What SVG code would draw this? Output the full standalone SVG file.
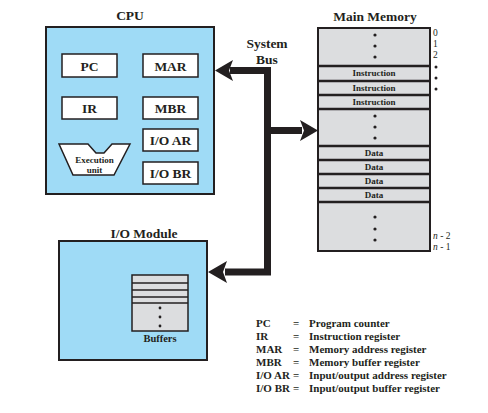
<svg xmlns="http://www.w3.org/2000/svg" width="488" height="413" viewBox="0 0 488 413">
<style>
text{font-family:"Liberation Serif","Times New Roman",serif;font-weight:bold;fill:#231f20}
.t{font-size:13.5px;text-anchor:middle}
.r{font-size:13.5px;text-anchor:middle}
.s{font-size:9px;text-anchor:middle}
.l{font-size:11px}
.i{font-size:9.5px;font-weight:normal}
.blue{fill:#9fdbf6;stroke:#231f20;stroke-width:2}
.reg{fill:#fff;stroke:#231f20;stroke-width:1.5}
.mem{fill:#dcdddf;stroke:#231f20;stroke-width:2}
.div{stroke:#231f20;stroke-width:2.5}
.thin{stroke:#231f20;stroke-width:1.5}
.dot{fill:#231f20}
</style>
<rect width="488" height="413" fill="#fff"/>

<g id="cpu">
<text class="t" x="130" y="20">CPU</text>
<rect class="blue" x="46" y="27" width="168" height="167"/>
<g id="pc"><rect class="reg" x="62" y="54" width="55" height="23"/><text class="r" x="89.5" y="70.5">PC</text></g>
<g id="mar"><rect class="reg" x="143" y="54" width="55" height="23"/><text class="r" x="170.5" y="70.5">MAR</text></g>
<g id="ir"><rect class="reg" x="62" y="97" width="55" height="22"/><text class="r" x="89.5" y="113">IR</text></g>
<g id="mbr"><rect class="reg" x="143" y="97" width="55" height="22"/><text class="r" x="170.5" y="113">MBR</text></g>
<g id="ioar"><rect class="reg" x="143" y="129" width="55" height="22"/><text class="r" x="170.5" y="145">I/O AR</text></g>
<g id="iobr"><rect class="reg" x="143" y="162" width="55" height="22"/><text class="r" x="170.5" y="178">I/O BR</text></g>
<g id="exec">
<path class="reg" d="M59,144 L88,144 L96,153 L104,153 L112,144 L130,144 L114,175 L73,175 Z"/>
<text class="s" x="94.5" y="162.5">Execution</text>
<text class="s" x="94.5" y="172.5">unit</text>
</g>
</g>

<g id="memory">
<text class="t" x="375" y="21">Main Memory</text>
<rect class="mem" x="318" y="28" width="112" height="223"/>
<line class="div" x1="318" y1="66" x2="430" y2="66"/>
<line class="div" x1="318" y1="81" x2="430" y2="81"/>
<line class="div" x1="318" y1="95" x2="430" y2="95"/>
<line class="div" x1="318" y1="109" x2="430" y2="109"/>
<line class="div" x1="318" y1="146" x2="430" y2="146"/>
<line class="div" x1="318" y1="160" x2="430" y2="160"/>
<line class="div" x1="318" y1="174" x2="430" y2="174"/>
<line class="div" x1="318" y1="188" x2="430" y2="188"/>
<line class="div" x1="318" y1="202" x2="430" y2="202"/>
<circle class="dot" cx="375" cy="35" r="1.6"/><circle class="dot" cx="375" cy="46" r="1.6"/><circle class="dot" cx="375" cy="57" r="1.6"/>
<text class="s" x="374" y="76">Instruction</text>
<text class="s" x="374" y="90.5">Instruction</text>
<text class="s" x="374" y="104.5">Instruction</text>
<circle class="dot" cx="375" cy="116" r="1.6"/><circle class="dot" cx="375" cy="127" r="1.6"/><circle class="dot" cx="375" cy="138" r="1.6"/>
<text class="s" x="374" y="156">Data</text>
<text class="s" x="374" y="170">Data</text>
<text class="s" x="374" y="184">Data</text>
<text class="s" x="374" y="198">Data</text>
<circle class="dot" cx="375" cy="217" r="1.6"/><circle class="dot" cx="375" cy="229" r="1.6"/><circle class="dot" cx="375" cy="240" r="1.6"/>
<text class="i" x="433" y="36">0</text>
<text class="i" x="433" y="47">1</text>
<text class="i" x="433" y="58">2</text>
<circle class="dot" cx="436" cy="67" r="1.5"/><circle class="dot" cx="436" cy="78" r="1.5"/><circle class="dot" cx="436" cy="89" r="1.5"/>
<text class="i" x="433" y="239"><tspan font-style="italic">n</tspan> - 2</text>
<text class="i" x="433" y="250"><tspan font-style="italic">n</tspan> - 1</text>
</g>

<g id="iomodule">
<text class="t" x="144" y="238">I/O Module</text>
<rect class="blue" x="59" y="241" width="148" height="119"/>
<rect class="mem" x="132" y="275" width="56" height="56" style="stroke-width:1.5"/>
<line class="thin" x1="132" y1="283" x2="188" y2="283"/>
<line class="thin" x1="132" y1="290" x2="188" y2="290"/>
<line class="thin" x1="132" y1="297" x2="188" y2="297"/>
<line class="thin" x1="132" y1="303" x2="188" y2="303"/>
<circle class="dot" cx="160" cy="308" r="1.4"/><circle class="dot" cx="160" cy="317" r="1.4"/><circle class="dot" cx="160" cy="326" r="1.4"/>
<text x="160" y="342" style="font-size:10.5px;text-anchor:middle">Buffers</text>
</g>

<g id="bus">
<text class="t" x="267" y="48">System</text>
<text class="t" x="267" y="64">Bus</text>
<path d="M230,70.5 H267.5 V272 H225" fill="none" stroke="#231f20" stroke-width="7"/>
<path d="M271,130.5 H302" fill="none" stroke="#231f20" stroke-width="7"/>
<path d="M215,70.5 L233,60 L229,70.5 L233,81 Z" fill="#231f20"/>
<path d="M318,130.5 L300,120 L304,130.5 L300,141 Z" fill="#231f20"/>
<path d="M208,272 L227,261 L223,272 L227,283 Z" fill="#231f20"/>
</g>

<g id="legend" class="l">
<text x="256" y="327">PC</text><text x="293" y="327">=</text><text x="309" y="327">Program counter</text>
<text x="256" y="339.5">IR</text><text x="293" y="339.5">=</text><text x="309" y="339.5">Instruction register</text>
<text x="256" y="352.5">MAR</text><text x="293" y="352.5">=</text><text x="309" y="352.5">Memory address register</text>
<text x="256" y="365.5">MBR</text><text x="293" y="365.5">=</text><text x="309" y="365.5">Memory buffer register</text>
<text x="256" y="378.5">I/O AR</text><text x="293" y="378.5">=</text><text x="309" y="378.5">Input/output address register</text>
<text x="256" y="391.5">I/O BR</text><text x="293" y="391.5">=</text><text x="309" y="391.5">Input/output buffer register</text>
</g>
</svg>
